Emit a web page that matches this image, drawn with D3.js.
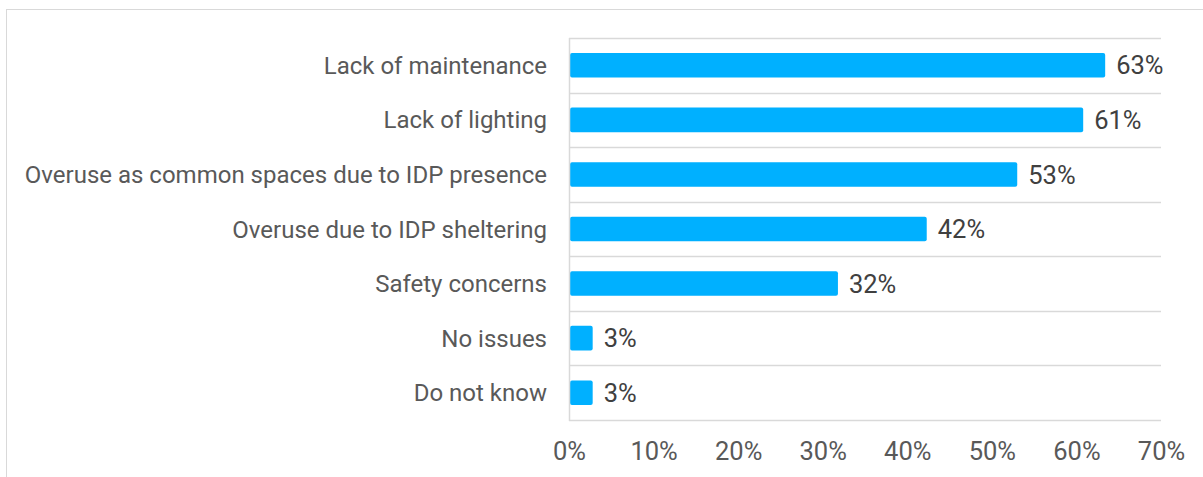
<!DOCTYPE html>
<html>
<head>
<meta charset="utf-8">
<script src="https://cdn.jsdelivr.net/npm/d3@7"></script>
<style>
  html, body { margin: 0; padding: 0; background: #fff; }
  svg { display: block; font-family: Roboto, "Noto Sans", sans-serif; }
</style>
</head>
<body>
<svg width="1203" height="477"></svg>
<script>
// categories and values (percent)
const categories = [
  "Lack of maintenance",
  "Lack of lighting",
  "Overuse as common spaces due to IDP presence",
  "Overuse due to IDP sheltering",
  "Safety concerns",
  "No issues",
  "Do not know"
];
const values = [63.4, 60.8, 53, 42.3, 31.8, 2.8, 2.8];
const ticks = [0, 10, 20, 30, 40, 50, 60, 70];

const svg = d3.select("svg");
const margin = { top: 38, right: 42, bottom: 57, left: 569 };
const width = 1203 - margin.left - margin.right;
const height = 477 - margin.top - margin.bottom;

// outer frame
svg.append("rect")
  .attr("x", 6.5).attr("y", 9.5)
  .attr("width", 1210).attr("height", 500)
  .attr("fill", "none").attr("stroke", "#d9d9d9");

const g = svg.append("g").attr("transform", `translate(${margin.left},${margin.top})`);

const x = d3.scaleLinear().domain([0, 70]).range([0, width]);
const y = d3.scaleBand().domain(categories).range([0, height]).paddingInner(0.55).paddingOuter(0.275);

// band boundary gridlines
const bounds = d3.range(categories.length + 1).map(i => i * height / categories.length);
g.selectAll(".grid")
  .data(bounds)
  .join("line")
  .attr("x1", 0).attr("x2", width)
  .attr("y1", d => Math.round(d) + 0.5).attr("y2", d => Math.round(d) + 0.5)
  .attr("stroke", "#d9d9d9").attr("stroke-width", 1.5);

// bars
g.selectAll(".bar")
  .data(values)
  .join("rect")
  .attr("x", 1)
  .attr("y", (d, i) => y(categories[i]))
  .attr("width", d => x(d) - 1)
  .attr("height", y.bandwidth())
  .attr("rx", 2)
  .attr("fill", "#00b0ff");

// value labels
g.selectAll(".val")
  .data(values)
  .join("text")
  .attr("x", d => x(d) + 11)
  .attr("y", (d, i) => y(categories[i]) + y.bandwidth() / 2)
  .attr("dy", "0.36em")
  .attr("fill", "#404040")
  .attr("font-size", 25.5)
  .text(d => Math.round(d) + "%");

// category labels
g.selectAll(".cat")
  .data(categories)
  .join("text")
  .attr("x", -22)
  .attr("y", d => y(d) + y.bandwidth() / 2)
  .attr("dy", "0.36em")
  .attr("text-anchor", "end")
  .attr("fill", "#595959")
  .attr("font-size", 24)
  .text(d => d);

// vertical axis line
g.append("line")
  .attr("x1", 0.5).attr("x2", 0.5)
  .attr("y1", 0).attr("y2", height + 1)
  .attr("stroke", "#d9d9d9").attr("stroke-width", 1.5);

// x axis
const xAxis = g.append("g")
  .attr("transform", `translate(0,${height})`)
  .call(d3.axisBottom(x).tickValues(ticks).tickFormat(d => d + "%").tickSize(0).tickPadding(22));
xAxis.select(".domain").remove();
xAxis.selectAll("text")
  .attr("fill", "#595959")
  .attr("font-size", 25.5)
  .attr("font-family", "Roboto, 'Noto Sans', sans-serif");
</script>
</body>
</html>
